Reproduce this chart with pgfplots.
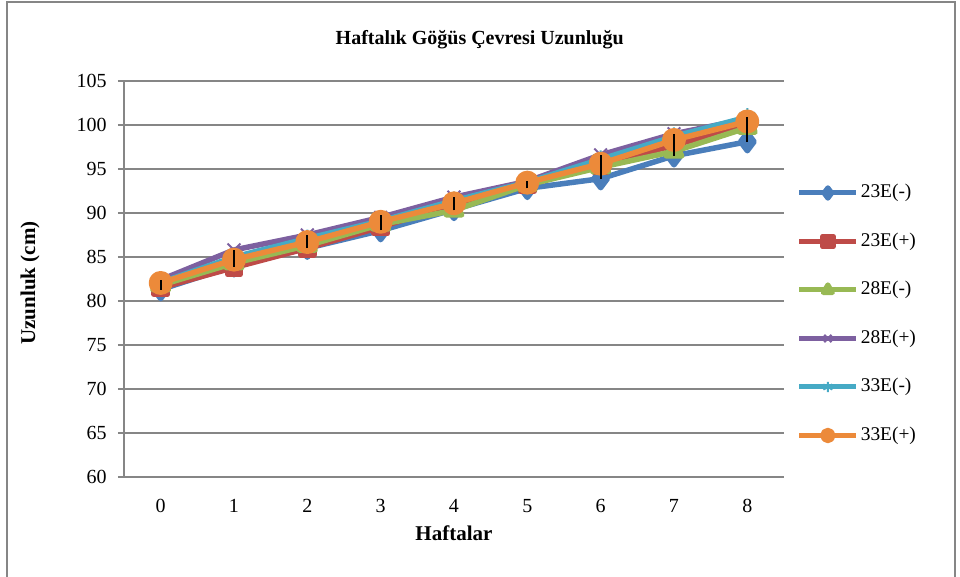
\documentclass[border=0pt]{standalone}
\usepackage{fontspec}
\setmainfont{Liberation Serif}
\usepackage{pgfplots}
\pgfplotsset{compat=1.18}
\definecolor{s1}{RGB}{74,126,187}
\definecolor{s2}{RGB}{190,75,72}
\definecolor{s3}{RGB}{152,185,84}
\definecolor{s4}{RGB}{125,96,160}
\definecolor{s5}{RGB}{70,170,197}
\definecolor{s6}{RGB}{236,138,58}
\definecolor{gridc}{RGB}{134,134,134}
\begin{document}
\begin{tikzpicture}
\path[use as bounding box] (-62pt,-50pt) rectangle (418pt,238.5pt);
\draw[gridc, line width=0.75pt] (-58.5pt,-50pt) -- (-58.5pt,237.6pt) -- (415.5pt,237.6pt) -- (415.5pt,-50pt);
\begin{axis}[
  scale only axis, width=330pt, height=198pt, at={(0,0)}, anchor=south west,
  xmin=-0.5, xmax=8.5, ymin=60, ymax=105,
  ytick={60,65,...,105}, xtick={0,...,8},
  axis x line*=bottom, axis y line*=left,
  axis line style={gridc, line width=0.75pt},
  ymajorgrids, grid style={gridc, line width=0.75pt},
  tick align=outside, major tick length=3pt,
  xtick style={draw=none}, ytick style={gridc, line width=0.75pt},
  tick label style={font=\fontsize{10}{12}\selectfont},
  /pgf/number format/assume math mode=true,
  yticklabel style={xshift=-2.2pt},
  xticklabel style={yshift=-4.7pt},
  title={\textbf{Haftalık Göğüs Çevresi Uzunluğu}},
  title style={at={(axis description cs:0.539,1)}, anchor=center, yshift=14.5pt, font=\fontsize{10}{12}\selectfont},
  xlabel={\textbf{Haftalar}},
  ylabel={\textbf{Uzunluk (cm)}},
  every axis x label/.style={at={(axis description cs:0.5,0)}, anchor=center, yshift=-28pt, font=\fontsize{10.5}{12}\selectfont},
  every axis y label/.style={at={(axis description cs:0,0.49)}, rotate=90, anchor=center, yshift=47pt, font=\fontsize{10.5}{12}\selectfont},
  every axis plot/.append style={line width=2.75pt, line join=round, mark options={solid}},
  legend image code/.code={\draw[#1, mark size=2.6pt, mark repeat=2, mark phase=2, line width=2.5pt] plot coordinates {(0cm,0cm) (0.5cm,0cm) (1cm,0cm)};},
  legend style={at={(rel axis cs:1.019,0.411)}, anchor=west, draw=none, fill=none, inner sep=0pt,
    row sep=13.25pt, column sep=0pt,
    nodes={inner sep=1pt, text height=7pt, text depth=2pt, font=\fontsize{9.7}{12}\selectfont, anchor=west}},
  legend cell align=left,
  unbounded coords=jump,
  clip marker paths=true,
]
\addplot[color=s1, mark=diamond*, mark size=4.5pt] coordinates {(0,81.3) (1,84.0) (2,86.0) (3,88.0) (4,90.4) (5,92.8) (6,93.9) (7,96.5) (8,98.1)};
\addplot[color=s2, mark=square*, mark size=3.3pt] coordinates {(0,81.5) (1,83.8) (2,86.0) (3,88.4) (4,91.0) (5,93.2) (6,95.4) (7,97.7) (8,100.0)};
\addplot[color=s3, mark=triangle*, mark size=4.5pt] coordinates {(0,81.8) (1,84.3) (2,86.3) (3,88.7) (4,90.3) (5,93.2) (6,95.2) (7,97.0) (8,99.7)};
\addplot[color=s4, mark=x, mark size=4.5pt, mark options={line width=1pt}] coordinates {(0,82.4) (1,85.8) (2,87.5) (3,89.5) (4,91.8) (5,93.6) (6,96.6) (7,99.0) (8,100.7)};
\addplot[color=s5, mark=asterisk, mark size=4.5pt, mark options={line width=1pt}] coordinates {(0,82.1) (1,85.0) (2,87.1) (3,89.1) (4,91.4) (5,93.5) (6,96.1) (7,98.7) (8,100.9)};
\addplot[color=s6, mark=*, mark size=4.6pt] coordinates {(0,82.05) (1,84.7) (2,86.7) (3,89.0) (4,91.1) (5,93.45) (6,95.6) (7,98.3) (8,100.4)};
\addplot[forget plot, black, line width=1.1pt, mark=none, line cap=butt] coordinates {
  (0,81.3) (0,82.4) (0,nan)
  (1,83.9) (1,85.8) (1,nan)
  (2,86.0) (2,87.5) (2,nan)
  (3,88.05) (3,89.75) (3,nan)
  (4,90.3) (4,91.8) (4,nan)
  (5,92.8) (5,93.6) (5,nan)
  (6,93.9) (6,96.6) (6,nan)
  (7,96.5) (7,99.0) (7,nan)
  (8,98.1) (8,100.9)};
\legend{23E(-),23E(+),28E(-),28E(+),33E(-),33E(+)}
\end{axis}
\end{tikzpicture}
\end{document}
